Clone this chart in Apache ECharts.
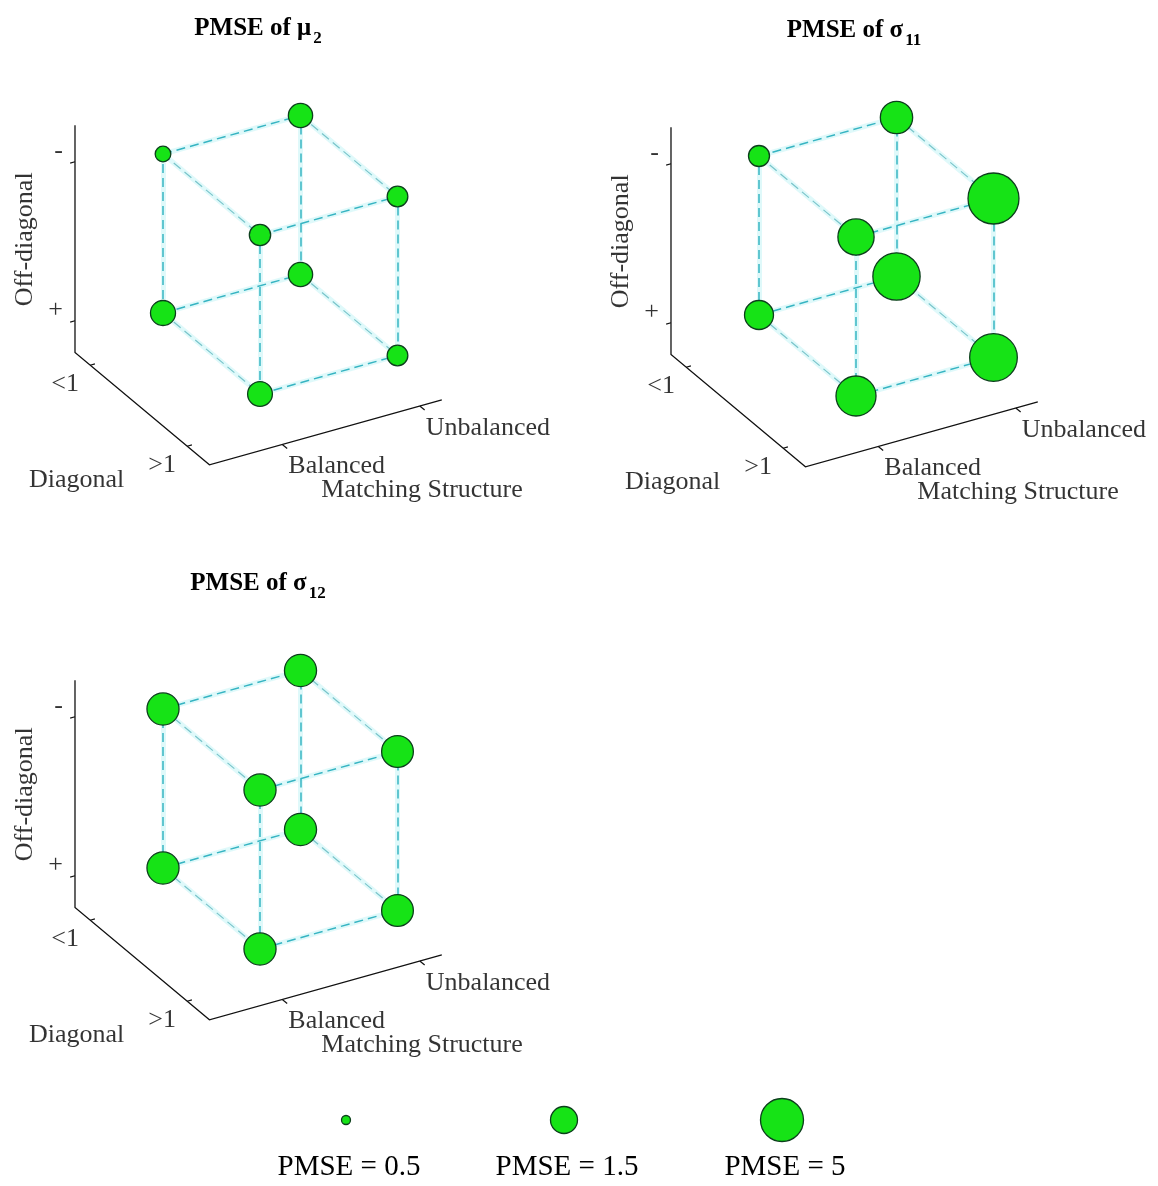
<!DOCTYPE html>
<html>
<head>
<meta charset="utf-8">
<script src="https://cdn.jsdelivr.net/npm/echarts@6/dist/echarts.min.js"></script>
<style>
html, body { margin: 0; padding: 0; background: #fff; }
#chart { width: 1158px; height: 1186px; }
</style>
</head>
<body>
<div id="chart"></div>
<script>
// 2 x 2 x 2 design: matching structure, diagonal, off-diagonal
var matchingTicks = ['Balanced', 'Unbalanced'];
var diagonalTicks = ['<1', '>1'];
var offDiagTicks = ['+', '-'];
// cell order: [matching, diagonal, offDiagonal]
var cells = [[0,0,0],[0,1,0],[1,0,0],[1,1,0],[0,0,1],[0,1,1],[1,0,1],[1,1,1]];
var pmseMu2     = [1.33, 1.31, 1.27, 1.02, 0.75, 1.06, 1.27, 1.02];
var pmseSigma11 = [1.74, 4.0, 6.9, 7.1, 1.04, 3.0, 2.24, 9.1];
var pmseSigma12 = [2.2, 2.2, 2.2, 2.15, 2.2, 2.2, 2.2, 2.15];
var legendValues = [0.5, 1.5, 5];

var FONT = "'Liberation Serif', 'Times New Roman', serif";

// oblique view of the cube (screen units per step, y up)
var eM = [137.5, 38.5], eD = [97, -81], eZ = [0, 159];
var box = { m: [-0.53, 1.16], d: [-0.156, 1.23], z: [-0.2, 1.23] };
function proj(m, d, z) {
  return [m * eM[0] + d * eD[0] + z * eZ[0], m * eM[1] + d * eD[1] + z * eZ[1]];
}

// marker diameter from PMSE (log scale between the legend sizes)
function markerSize(v) {
  var a = Math.log(v);
  if (v <= 1.5) return 9 + (a - Math.log(0.5)) / Math.log(3) * 18;
  return 27 + (a - Math.log(1.5)) / Math.log(5 / 1.5) * 16;
}

var panels = [
  { sym: 'μ', sub: '2', values: pmseMu2, left: 0, top: 0 },
  { sym: 'σ', sub: '11', values: pmseSigma11, left: 596, top: 2 },
  { sym: 'σ', sub: '12', values: pmseSigma12, left: 0, top: 555 }
];

var edges = [];
cells.forEach(function (a, i) {
  cells.forEach(function (b, j) {
    var diff = Math.abs(a[0] - b[0]) + Math.abs(a[1] - b[1]) + Math.abs(a[2] - b[2]);
    if (j > i && diff === 1) edges.push([a, b]);
  });
});

var grids = [], xAxes = [], yAxes = [], titles = [], series = [];

panels.forEach(function (p, gi) {
  grids.push({ left: p.left, top: p.top, width: 560, height: 540 });
  xAxes.push({ gridIndex: gi, type: 'value', min: -163, max: 397, show: false });
  yAxes.push({ gridIndex: gi, type: 'value', min: -227, max: 313, show: false });

  titles.push({
    text: '{a|PMSE of ' + p.sym + '}{b|' + p.sub + '}',
    left: p.left + 253, top: p.top + 11, textAlign: 'center',
    textStyle: {
      rich: {
        a: { fontFamily: FONT, fontSize: 25, fontWeight: 'bold', color: '#000', verticalAlign: 'bottom', padding: [0, 2, 6, 0] },
        b: { fontFamily: FONT, fontSize: 17, fontWeight: 'bold', color: '#000', verticalAlign: 'bottom' }
      }
    }
  });

  var ax = { xAxisIndex: gi, yAxisIndex: gi };

  // cube edges: soft halo then dashed line
  series.push(Object.assign({
    type: 'lines', coordinateSystem: 'cartesian2d', silent: true, z: 1,
    lineStyle: { color: '#d2f6f8', width: 5, opacity: 0.7, type: 'solid' },
    data: edges.map(function (e) { return { coords: [proj.apply(null, e[0]), proj.apply(null, e[1])] }; })
  }, ax));
  series.push(Object.assign({
    type: 'lines', coordinateSystem: 'cartesian2d', silent: true, z: 2,
    lineStyle: { color: '#36b4c2', width: 1.5, type: [9, 5], opacity: 1 },
    data: edges.map(function (e) {
      var alongD = e[0][1] !== e[1][1];
      return {
        coords: [proj.apply(null, e[0]), proj.apply(null, e[1])],
        lineStyle: alongD ? { color: '#78c4ca', width: 1.2 } : {}
      };
    })
  }, ax));

  // axis box lines
  series.push(Object.assign({
    type: 'lines', coordinateSystem: 'cartesian2d', polyline: true, silent: true, z: 2,
    lineStyle: { color: '#111', width: 1.3, opacity: 1 },
    data: [{ coords: [
      proj(box.m[0], box.d[0], box.z[1]),
      proj(box.m[0], box.d[0], box.z[0]),
      proj(box.m[0], box.d[1], box.z[0]),
      proj(box.m[1], box.d[1], box.z[0])
    ] }]
  }, ax));

  // tick marks
  var tickSegs = [];
  [0, 1].forEach(function (k) {
    tickSegs.push({ coords: [proj(box.m[0], box.d[0], k), proj(box.m[0] - 0.035, box.d[0], k)] });
    tickSegs.push({ coords: [proj(box.m[0], k, box.z[0]), proj(box.m[0] + 0.035, k, box.z[0])] });
    tickSegs.push({ coords: [proj(k, box.d[1], box.z[0]), proj(k, box.d[1] + 0.05, box.z[0])] });
  });
  series.push(Object.assign({
    type: 'lines', coordinateSystem: 'cartesian2d', silent: true, z: 2,
    lineStyle: { color: '#111', width: 1.2, opacity: 1 },
    data: tickSegs
  }, ax));

  // tick labels and axis names
  var txt = [];
  offDiagTicks.forEach(function (t, k) {
    txt.push({ value: proj(box.m[0], box.d[0], k), name: t, label: { align: 'right', offset: [-12, -11] } });
  });
  diagonalTicks.forEach(function (t, k) {
    txt.push({ value: proj(box.m[0], k, box.z[0]), name: t, label: { align: 'center', offset: [-25, 19] } });
  });
  matchingTicks.forEach(function (t, k) {
    txt.push({ value: proj(k, box.d[1], box.z[0]), name: t, label: { align: 'left', offset: [6, 22] } });
  });
  txt.push({ value: proj(box.m[0], box.d[0], 0.5), name: 'Off-diagonal', label: { align: 'center', rotate: 90, offset: [2, -50] } });
  txt.push({ value: proj(box.m[0], 0.5, box.z[0]), name: 'Diagonal', label: { align: 'center', offset: [-62, 74] } });
  txt.push({ value: proj(0.5, box.d[1], box.z[0]), name: 'Matching Structure', label: { align: 'center', offset: [71, 65] } });
  series.push(Object.assign({
    type: 'scatter', silent: true, symbolSize: 0, z: 4,
    label: {
      show: true, position: 'inside', verticalAlign: 'middle',
      formatter: '{b}', color: '#000', textBorderWidth: 0,
      fontFamily: FONT, fontSize: 26
    },
    data: txt
  }, ax));

  // PMSE markers
  series.push(Object.assign({
    type: 'scatter', z: 5, symbol: 'circle',
    symbolSize: function (val, params) { return markerSize(p.values[params.dataIndex]); },
    itemStyle: { color: '#16e316', borderColor: '#0c3f1c', borderWidth: 1.3, opacity: 1 },
    data: cells.map(function (c) { return proj(c[0], c[1], c[2]); })
  }, ax));
});

// size legend
grids.push({ left: 240, top: 1100, width: 654, height: 40 });
xAxes.push({
  gridIndex: 3, type: 'category',
  data: legendValues.map(function (v) { return 'PMSE = ' + v; }),
  axisLine: { show: false }, axisTick: { show: false }, splitLine: { show: false },
  axisLabel: { margin: 13, color: '#000', fontFamily: FONT, fontSize: 29 }
});
yAxes.push({ gridIndex: 3, type: 'value', min: 0, max: 1, show: false });
series.push({
  type: 'scatter', xAxisIndex: 3, yAxisIndex: 3, z: 5, symbol: 'circle',
  symbolSize: function (val) { return markerSize(legendValues[val[0]]); },
  symbolOffset: [-3, 0],
  itemStyle: { color: '#16e316', borderColor: '#0c3f1c', borderWidth: 1.3, opacity: 1 },
  data: legendValues.map(function (v, i) { return [i, 0.5]; })
});

var chart = echarts.init(document.getElementById('chart'));
chart.setOption({
  animation: false,
  backgroundColor: '#fff',
  title: titles,
  grid: grids,
  xAxis: xAxes,
  yAxis: yAxes,
  series: series
});
</script>
</body>
</html>
